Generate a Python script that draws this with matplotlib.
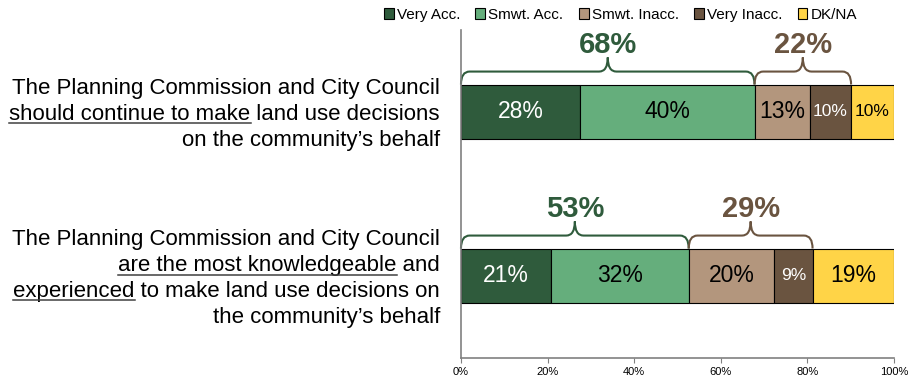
import numpy as np
import matplotlib
matplotlib.use("Agg")
import matplotlib.pyplot as plt
from matplotlib.path import Path
from matplotlib.patches import PathPatch
from matplotlib.lines import Line2D
from matplotlib.transforms import offset_copy

plt.rcParams['font.family'] = ['Liberation Sans', 'DejaVu Sans']

# answer categories and their colours
series = ['Very Acc.', 'Smwt. Acc.', 'Smwt. Inacc.', 'Very Inacc.', 'DK/NA']
colors = ['#2F5B3C', '#65AE7C', '#B3967D', '#6A5440', '#FFD447']
text_colors = ['white', 'black', 'black', 'white', 'black']

# statements: each line is a list of (text, underlined) pieces
statements = [
    [[('The Planning Commission and City Council', False)],
     [('should continue to make', True), (' land use decisions', False)],
     [('on the community\u2019s behalf', False)]],
    [[('The Planning Commission and City Council', False)],
     [('are the most knowledgeable', True), (' and', False)],
     [('experienced', True), (' to make land use decisions on', False)],
     [('the community\u2019s behalf', False)]],
]

# percent of respondents per statement, one column per answer
very_acc = [27.6, 20.7]
smwt_acc = [40.2, 31.9]
smwt_inacc = [12.7, 19.8]
very_inacc = [9.6, 8.8]
dk_na = [9.9, 18.8]

data = np.array([very_acc, smwt_acc, smwt_inacc, very_inacc, dk_na])

fig = plt.figure(figsize=(9.11, 3.81), dpi=100)
ax = fig.add_axes([0.506, 0.0604, 0.4753, 0.8609])

ypos = np.arange(len(statements))
bar_h = 0.335
left = np.zeros(len(statements))
for k, name in enumerate(series):
    vals = data[k]
    ax.barh(ypos, vals, left=left, height=bar_h, color=colors[k],
            edgecolor='black', linewidth=0.8, label=name)
    for i, v in enumerate(vals):
        fs = 12.5 if v < 10.5 else 16.5
        ax.text(left[i] + v / 2, ypos[i], f'{v:.0f}%', ha='center', va='center',
                color=text_colors[k], fontsize=fs)
    left = left + vals

ax.set_xlim(0, 100)
ax.set_ylim(1.5, -0.5)
ax.set_xticks(np.arange(0, 101, 20))
ax.set_xticklabels([f'{t}%' for t in range(0, 101, 20)])
ax.set_yticks([])
ax.tick_params(axis='x', labelsize=8, length=3.5, color='#808080', pad=3)
for s in ['top', 'right']:
    ax.spines[s].set_visible(False)
for s in ['left', 'bottom']:
    ax.spines[s].set_color('#808080')
    ax.spines[s].set_linewidth(1.2)


def brace(x0, x1, y_bar, color, label):
    # curly bracket sitting on top of the bar, opening downward
    line = y_bar - 0.079
    peak = y_bar - 0.165
    xm = (x0 + x1) / 2
    rx = 2.0
    verts = [(x0, y_bar), (x0, line), (x0 + rx, line),
             (xm - rx, line), (xm, line), (xm, peak),
             (xm, line), (xm + rx, line),
             (x1 - rx, line), (x1, line), (x1, y_bar)]
    codes = [Path.MOVETO, Path.CURVE3, Path.CURVE3,
             Path.LINETO, Path.CURVE3, Path.CURVE3,
             Path.CURVE3, Path.CURVE3,
             Path.LINETO, Path.CURVE3, Path.CURVE3]
    ax.add_patch(PathPatch(Path(verts, codes), fill=False, edgecolor=color,
                           linewidth=1.5, clip_on=False))
    ax.text(xm, peak - 0.028, label, ha='center', va='baseline', color=color,
            fontsize=21, fontweight='bold', clip_on=False)


for i in ypos:
    acc = data[0, i] + data[1, i]
    inacc = data[2, i] + data[3, i]
    top = i - bar_h / 2
    brace(0, acc, top, '#2F5B3C', f'{acc:.0f}%')
    brace(acc, acc + inacc, top, '#6A5440', f'{inacc:.0f}%')

# statement text to the left of the bars, right aligned, with underlines
label_fs = 16
line_px = 25.7
cap_px = 16.0
label_x = -4.85
texts = []
for i, lines in enumerate(statements):
    n = len(lines)
    for j, pieces in enumerate(lines):
        dy = cap_px / 2 + (j - (n - 1) / 2) * line_px
        tr = offset_copy(ax.transData, fig=fig, x=0, y=-dy, units='dots')
        full = ''.join(p[0] for p in pieces)
        t = ax.text(label_x, i, full, ha='right', va='baseline',
                    fontsize=label_fs, transform=tr, clip_on=False)
        texts.append((t, pieces))

fig.canvas.draw()
renderer = fig.canvas.get_renderer()
inv = fig.transFigure.inverted()
for t, pieces in texts:
    bb = t.get_window_extent(renderer)
    x_base, y_base = t.get_transform().transform(t.get_position())
    x = bb.x0
    for piece, under in pieces:
        m = fig.text(0, 0, piece.replace(' ', '\u00a0'), fontsize=label_fs)
        w = m.get_window_extent(renderer).width
        m.remove()
        if under:
            p0 = inv.transform((x, y_base - 3.5))
            p1 = inv.transform((x + w, y_base - 3.5))
            fig.add_artist(Line2D([p0[0], p1[0]], [p0[1], p1[1]],
                                  color='#404040', linewidth=1.1))
        x += w

fig.legend(*ax.get_legend_handles_labels(), loc='center',
           bbox_to_anchor=(0.681, 0.961), ncol=5, frameon=False, fontsize=11,
           handlelength=0.65, handleheight=0.65, handletextpad=0.2,
           columnspacing=1.0, borderaxespad=0)

fig.savefig('out.png', dpi=100)
